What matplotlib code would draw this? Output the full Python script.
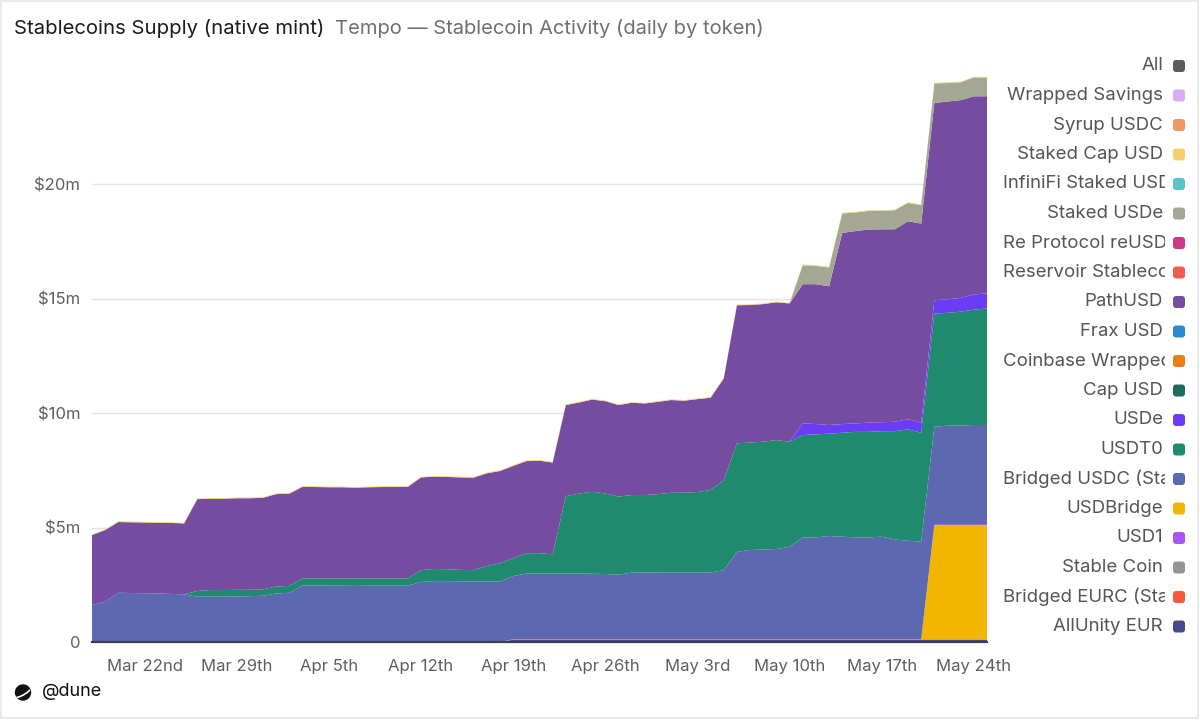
import numpy as np
import pandas as pd
import matplotlib
matplotlib.use('Agg')
import matplotlib.pyplot as plt
import matplotlib.patches as mpatches
from matplotlib.transforms import Bbox

plt.rcParams['font.family'] = ['Inter', 'DejaVu Sans']

# daily dates shown on the chart
dates = pd.date_range('2025-03-18', '2025-05-25', freq='D')

# token supplies in $m, stacked bottom -> top
allunity_eur = [0.0] * 32 + [0.10] * 37
bridged_eurc = [0.0] * 32 + [0.02] * 37
usd_bridge = [0.0] * 64 + [5.00, 5.00, 5.00, 5.00, 5.00]
bridged_usdc = [
    1.62, 1.76, 2.15, 2.14, 2.13, 2.12, 2.10, 2.08, 1.98, 1.98,
    1.98, 1.99, 2.00, 2.02, 2.12, 2.15, 2.47, 2.47, 2.46, 2.46,
    2.45, 2.46, 2.46, 2.46, 2.46, 2.62, 2.66, 2.66, 2.65, 2.64,
    2.65, 2.64, 2.76, 2.87, 2.87, 2.87, 2.87, 2.87, 2.86, 2.85,
    2.82, 2.91, 2.92, 2.91, 2.91, 2.91, 2.91, 2.91, 3.02, 3.82,
    3.90, 3.92, 3.94, 4.04, 4.45, 4.45, 4.51, 4.48, 4.45, 4.45,
    4.48, 4.36, 4.30, 4.27, 4.28, 4.33, 4.34, 4.36, 4.36]
usdt0 = [
    0.00, 0.00, 0.00, 0.00, 0.00, 0.00, 0.00, 0.00, 0.25, 0.29,
    0.29, 0.29, 0.28, 0.28, 0.30, 0.30, 0.31, 0.31, 0.32, 0.32,
    0.33, 0.32, 0.32, 0.32, 0.32, 0.52, 0.53, 0.52, 0.50, 0.50,
    0.67, 0.80, 0.78, 0.89, 0.89, 0.84, 3.38, 3.50, 3.58, 3.52,
    3.41, 3.39, 3.38, 3.43, 3.49, 3.49, 3.52, 3.61, 3.93, 4.74,
    4.69, 4.71, 4.76, 4.59, 4.47, 4.50, 4.47, 4.54, 4.61, 4.61,
    4.61, 4.73, 4.87, 4.75, 4.95, 4.93, 4.97, 5.04, 5.09]
usde = [0.0] * 54 + [
    0.51, 0.45, 0.38, 0.38, 0.37, 0.40, 0.39, 0.41, 0.44, 0.44,
    0.58, 0.59, 0.60, 0.66, 0.66]
path_usd = [
    3.05, 3.13, 3.09, 3.09, 3.09, 3.09, 3.10, 3.10, 4.01, 3.99,
    3.99, 4.00, 4.00, 4.00, 4.04, 4.03, 4.00, 3.99, 3.98, 3.98,
    3.96, 3.98, 3.99, 3.99, 4.00, 4.05, 4.03, 4.03, 4.04, 4.04,
    4.05, 4.03, 4.03, 4.02, 4.04, 4.01, 3.98, 3.97, 4.03, 4.03,
    4.00, 4.03, 4.00, 4.03, 4.05, 4.02, 4.06, 4.03, 4.44, 6.03,
    6.01, 6.01, 6.02, 6.04, 6.08, 6.11, 6.06, 8.35, 8.40, 8.44,
    8.43, 8.41, 8.65, 8.70, 8.62, 8.64, 8.64, 8.66, 8.61]
staked_usde = [0.0] * 54 + [
    0.83, 0.80, 0.82, 0.85, 0.81, 0.81, 0.80, 0.83, 0.80, 0.80,
    0.85, 0.81, 0.78, 0.82, 0.82]
staked_cap_usd = [0.03] * 69

# legend entries, top -> bottom as listed on the chart
legend_names = [
    'All', 'Wrapped Savings', 'Syrup USDC', 'Staked Cap USD',
    'InfiniFi Staked USD', 'Staked USDe', 'Re Protocol reUSD',
    'Reservoir Stablecoin', 'PathUSD', 'Frax USD', 'Coinbase Wrapped',
    'Cap USD', 'USDe', 'USDT0', 'Bridged USDC (Stargate)', 'USDBridge',
    'USD1', 'Stable Coin', 'Bridged EURC (Stargate)', 'AllUnity EUR']
legend_colors = [
    '#5c5c60', '#dcaaf2', '#f3956a', '#f7cd6c', '#5cc4c8', '#a5a795',
    '#cf378c', '#ef5d4f', '#764ca0', '#2b89cf', '#e7801a', '#1e6b5e',
    '#6b3cf5', '#1f8a6e', '#5c68b0', '#f2b600', '#a855f2', '#949494',
    '#f45b3a', '#48488f']

x_tick_dates = ['2025-03-22', '2025-03-29', '2025-04-05', '2025-04-12',
                '2025-04-19', '2025-04-26', '2025-05-03', '2025-05-10',
                '2025-05-17', '2025-05-24']
x_tick_labels = ['Mar 22nd', 'Mar 29th', 'Apr 5th', 'Apr 12th', 'Apr 19th',
                 'Apr 26th', 'May 3rd', 'May 10th', 'May 17th', 'May 24th']
y_ticks = [0, 5, 10, 15, 20]
y_tick_labels = ['0', '$5m', '$10m', '$15m', '$20m']

W, H = 1200, 721
GREY = '#5f5f5f'


def color_of(name):
    return legend_colors[legend_names.index(name)]


def plot_stack(ax):
    series = [
        ('AllUnity EUR', allunity_eur),
        ('Bridged EURC (Stargate)', bridged_eurc),
        ('USDBridge', usd_bridge),
        ('Bridged USDC (Stargate)', bridged_usdc),
        ('USDT0', usdt0),
        ('USDe', usde),
        ('PathUSD', path_usd),
        ('Staked USDe', staked_usde),
        ('Staked Cap USD', staked_cap_usd),
    ]
    ax.stackplot(dates, *[np.array(v) for _, v in series],
                 colors=[color_of(n) for n, _ in series], linewidth=0)

    ax.set_xlim(dates[0], dates[-1])
    ax.set_ylim(0, 24.9)
    ax.set_xticks(pd.to_datetime(x_tick_dates))
    ax.set_xticklabels(x_tick_labels, fontsize=12, color=GREY)
    ax.set_yticks(y_ticks)
    ax.set_yticklabels(y_tick_labels, fontsize=12, color=GREY)
    ax.tick_params(axis='both', length=0)
    ax.tick_params(axis='x', pad=12)
    ax.tick_params(axis='y', pad=8.5)
    ax.grid(axis='y', color='#e4e4e4', linewidth=1)
    ax.set_axisbelow(True)
    for side in ['top', 'right', 'left']:
        ax.spines[side].set_visible(False)
    ax.spines['bottom'].set_color('#3c3c5a')
    ax.spines['bottom'].set_linewidth(1.6)
    ax.spines['bottom'].set_zorder(5)


def draw_overlay(fig):
    ov = fig.add_axes([0, 0, 1, 1], facecolor='none')
    ov.set_xlim(0, W)
    ov.set_ylim(H, 0)
    ov.axis('off')

    # card border
    ov.add_patch(mpatches.Rectangle((1, 1), W - 3, H - 4, fill=False,
                                    edgecolor='#e6e6e6', linewidth=1.2))

    # header
    title = ov.text(14, 29, 'Stablecoins Supply (native mint)', fontsize=14.6,
                    color='#1b1b1b', va='center', ha='left')
    fig.canvas.draw()
    r = fig.canvas.get_renderer()
    x_end = title.get_window_extent(renderer=r).x1
    ov.text(x_end + 11, 29, 'Tempo \u2014 Stablecoin Activity (daily by token)',
            fontsize=14.5, color='#6f6f6f', va='center', ha='left')

    # legend (long names are cut at the legend column like the original)
    clip = Bbox.from_extents(1003, 0, 1165, H)
    for k, (name, col) in enumerate(zip(legend_names, legend_colors)):
        y = 66 + 29.5 * k
        t = ov.text(1163, y, name, fontsize=13.4, color='#555555',
                    ha='right', va='center')
        t.set_clip_box(clip)
        t.set_clip_on(True)
        fig.canvas.draw()
        if t.get_window_extent(renderer=fig.canvas.get_renderer()).x0 < 1003:
            t.set_ha('left')
            t.set_x(1003)
        ov.add_patch(mpatches.FancyBboxPatch(
            (1173, y - 6), 12, 12, boxstyle='round,pad=0,rounding_size=3',
            facecolor=col, edgecolor='none'))

    # dune footer
    ov.add_patch(mpatches.Circle((23, 692.5), 7.5, color='#111111'))
    ov.plot([16.5, 20, 24, 27.5, 30], [697.5, 696.6, 694.6, 692.3, 689.8],
            color='white', linewidth=1.2, solid_capstyle='butt')
    ov.text(42, 692, '@dune', fontsize=13, color='#111111', va='center',
            ha='left')


def main():
    fig = plt.figure(figsize=(W / 100, H / 100), dpi=100)
    fig.patch.set_facecolor('white')
    ax = fig.add_axes([92 / W, 1 - 642 / H, (987 - 92) / W, (642 - 72) / H])
    plot_stack(ax)
    draw_overlay(fig)
    fig.savefig('out.png', dpi=100)


if __name__ == '__main__':
    main()
